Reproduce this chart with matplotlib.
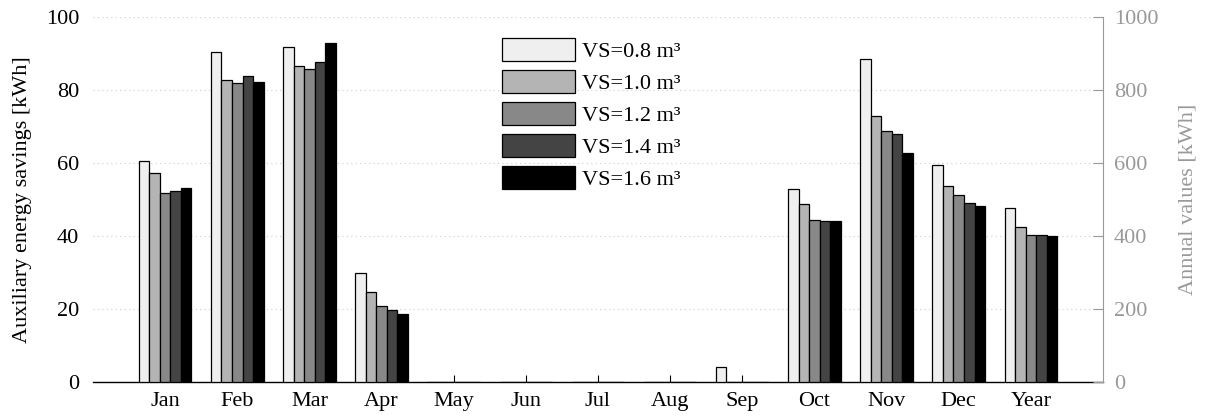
import numpy as np
import matplotlib.pyplot as plt

plt.rcParams['font.family'] = ['Liberation Serif', 'DejaVu Serif']

# Monthly auxiliary energy savings [kWh] per storage volume
months = ["Jan", "Feb", "Mar", "Apr", "May", "Jun", "Jul", "Aug", "Sep", "Oct", "Nov", "Dec"]
vs_labels = ["VS=0.8 m³", "VS=1.0 m³", "VS=1.2 m³", "VS=1.4 m³", "VS=1.6 m³"]

vs08 = [60.6, 90.6, 91.8, 29.9, 0, 0, 0, 0, 4.1, 53.0, 88.5, 59.5]
vs10 = [57.4, 82.9, 86.7, 24.7, 0, 0, 0, 0, 0, 48.8, 73.0, 53.8]
vs12 = [51.9, 82.0, 85.8, 20.8, 0, 0, 0, 0, 0, 44.5, 68.9, 51.3]
vs14 = [52.3, 83.9, 87.9, 19.8, 0, 0, 0, 0, 0, 44.3, 68.0, 49.0]
vs16 = [53.3, 82.3, 93.0, 18.6, 0, 0, 0, 0, 0, 44.1, 62.7, 48.2]

# Annual totals [kWh], right-hand axis
year_values = [477, 425, 403, 403, 400]

colors = ["#efefef", "#b4b4b4", "#888888", "#444444", "#000000"]
series = [vs08, vs10, vs12, vs14, vs16]

fig = plt.figure(figsize=(12.06, 4.19), dpi=100)
ax = fig.add_axes([0.0771, 0.0883, 0.8375, 0.870])
ax2 = ax.twinx()

x = np.arange(1, len(months) + 1)
x_year = len(months) + 1
w = 0.146
fs = 16

for i, (vals, c, lab) in enumerate(zip(series, colors, vs_labels)):
    off = (i - 2) * w
    ax.bar(x + off, vals, width=w, color=c, edgecolor="black", linewidth=0.9, label=lab, zorder=3)
    ax2.bar(x_year + off, year_values[i], width=w, color=c, edgecolor="black", linewidth=0.9, zorder=3)

ax.set_xlim(0, 14)
ax.set_ylim(0, 100)
ax2.set_ylim(0, 1000)

ax.set_xticks(list(x) + [x_year])
ax.set_xticklabels(months + ["Year"], fontsize=fs)
ax.set_yticks(np.arange(0, 101, 20))
ax.tick_params(axis="x", direction="in", length=5, width=0.8, pad=7)
ax.tick_params(axis="y", length=0, labelsize=fs, pad=10)
ax.grid(axis="y", color="#cccccc", linestyle=(0, (1, 3)), linewidth=0.8, zorder=0)

for s in ["left", "top", "right"]:
    ax.spines[s].set_visible(False)
ax.spines["bottom"].set_linewidth(1.0)

ax2.set_yticks(np.arange(0, 1001, 200))
ax2.tick_params(axis="y", colors="#999999", labelsize=fs, direction="in", length=7, pad=8)
for s in ["left", "top", "bottom"]:
    ax2.spines[s].set_visible(False)
ax2.spines["right"].set_color("#999999")

ax.set_ylabel("Auxiliary energy savings [kWh]", fontsize=fs, labelpad=10)
ax2.set_ylabel("Annual values [kWh]", fontsize=fs, color="#999999", labelpad=14)

ax.legend(loc="upper left", bbox_to_anchor=(0.405, 0.945), frameon=False, fontsize=fs,
          handlelength=3.3, handleheight=1.25, labelspacing=0.35, handletextpad=0.3,
          borderpad=0, borderaxespad=0)

fig.savefig("out.png", dpi=100)
